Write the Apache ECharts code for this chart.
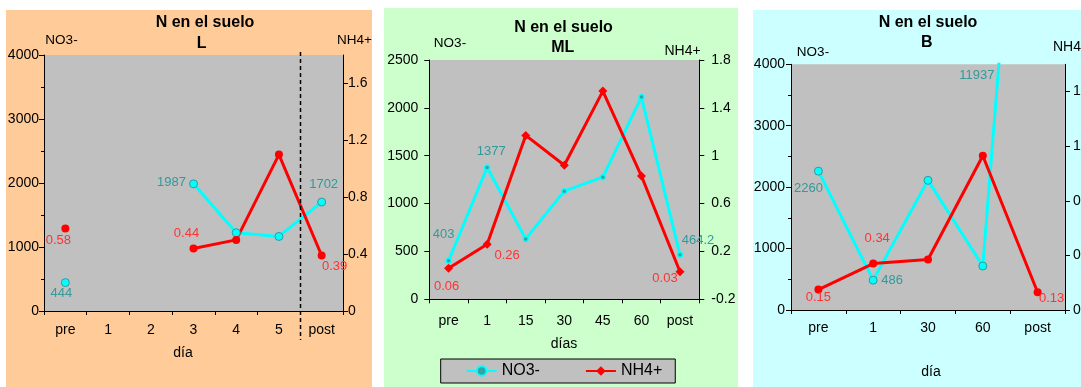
<!DOCTYPE html>
<html><head><meta charset="utf-8">
<script src="https://cdn.jsdelivr.net/npm/echarts@6/dist/echarts.min.js"></script>
<style>
html,body{margin:0;padding:0;background:#fff;width:1081px;height:387px;overflow:hidden;}
.p{position:absolute;}
</style></head><body>
<div id="c1" class="p" style="left:6px;top:10px;width:366px;height:377px;background:#FFCC99"></div>
<div id="c2" class="p" style="left:384px;top:8px;width:354px;height:379px;background:#CCFFCC"></div>
<div id="c3" class="p" style="left:753px;top:10px;width:328px;height:377px;background:#CCFFFF"></div>
<script>
// ---------- data ----------
const L_days = ['pre', '1', '2', '3', '4', '5', 'post'];
const L_no3 = [444, null, null, 1987, 1223, 1165, 1702];
const L_nh4 = [0.58, null, null, 0.44, 0.50, 1.10, 0.39];
const L_no3Axis = [0, 4000, 1000];
const L_nh4Axis = [0, 1.8, 0.4];
const L_nh4Ticks = [0, 0.4, 0.8, 1.2, 1.6];

const ML_days = ['pre', '1', '15', '30', '45', '60', 'post'];
const ML_no3 = [403, 1377, 631, 1130, 1276, 2113, 464.2];
const ML_nh4 = [0.06, 0.26, 1.17, 0.92, 1.54, 0.83, 0.03];
const ML_no3Axis = [0, 2500, 500];
const ML_nh4Axis = [-0.2, 1.8, 0.4];

const B_days = ['pre', '1', '30', '60', 'post'];
const B_no3 = [2260, 486, 2111, 716, 11937];
const B_nh4 = [0.15, 0.34, 0.37, 1.13, 0.13];
const B_no3Axis = [0, 4000, 1000];
const B_nh4Axis = [0, 1.8, 0.4];
const B_nh4Ticks = [0, 0.4, 0.8, 1.2, 1.6];

const TITLE = 'N en el suelo';
const S_NO3 = 'NO3-', S_NH4 = 'NH4+';

// ---------- styles ----------
const FONT = "'Liberation Sans', Arial, sans-serif";
const TEAL = '#339999', RED_TXT = '#FF3333', CYAN = '#00FFFF', RED = '#FF0000';

function withLabels(values, spots, color) {
  return values.map((v, i) => {
    const s = spots[i];
    if (!s || v == null) return v;
    return { value: v, label: { show: true, position: 'inside', offset: s, color: color,
      fontSize: 13, fontFamily: FONT, formatter: String(v) } };
  });
}
function yAx(range, pos, margin, extra) {
  const a = {
    type: 'value', position: pos, min: range[0], max: range[1], interval: range[2],
    axisLine: { show: true, onZero: false, lineStyle: { color: '#000', width: 1 } },
    axisTick: { show: true, length: 5, lineStyle: { color: '#000' } },
    splitLine: { show: false },
    axisLabel: { color: '#000', fontSize: 14, fontFamily: FONT, margin: margin,
      formatter: v => String(+(+v).toFixed(2)) }
  };
  if (extra) {
    if (extra.minor) a.minorTick = { show: true, splitNumber: 2, length: 3, lineStyle: { color: '#000' } };
    if (extra.ticks) {
      a.axisLabel.customValues = extra.ticks;
      a.axisTick.customValues = extra.ticks;
      const mx = extra.ticks[extra.ticks.length - 1];
      a.axisLabel.formatter = v => (v > mx + 1e-9 ? '' : String(+(+v).toFixed(2)));
    }
  }
  return a;
}
function xAx(days, margin) {
  return {
    type: 'category', data: days, boundaryGap: true,
    axisLine: { show: true, lineStyle: { color: '#000', width: 1 } },
    axisTick: { show: true, length: 4, lineStyle: { color: '#000' } },
    axisLabel: { color: '#000', fontSize: 14, fontFamily: FONT, margin: margin }
  };
}
function grid(left, top, width, height) {
  return { left: left, top: top, width: width, height: height, show: true, backgroundColor: '#C0C0C0',
    borderWidth: 0, containLabel: false, outerBoundsMode: 'none' };
}
function txt(x, y, text, size, bold, align) {
  return { type: 'text', x: x, y: y, z: 10, style: { text: text, fill: '#000', fontSize: size,
    fontWeight: bold ? 'bold' : 'normal', fontFamily: FONT, align: align || 'center', verticalAlign: 'middle' } };
}
function no3Series(data, size, small) {
  return { name: S_NO3, type: 'line', yAxisIndex: 0, data: data, symbol: 'circle', symbolSize: size,
    connectNulls: false, animation: false,
    lineStyle: { color: CYAN, width: 3 },
    itemStyle: small ? { color: '#2FA5A5', borderColor: CYAN, borderWidth: 1.5 }
                     : { color: CYAN, borderColor: TEAL, borderWidth: 1 } };
}
function nh4Series(data, size, sym) {
  return { name: S_NH4, type: 'line', yAxisIndex: 1, data: data, symbol: sym, symbolSize: size,
    connectNulls: false, animation: false,
    lineStyle: { color: RED, width: 3 }, itemStyle: { color: RED } };
}

// ---------- panel L ----------
const c1 = echarts.init(document.getElementById('c1'), null, { renderer: 'canvas' });
const opt1 = {
  backgroundColor: 'transparent', animation: false,
  grid: grid(38, 45, 299, 256),
  xAxis: xAx(L_days, 12),
  yAxis: [yAx(L_no3Axis, 'left', 5, { minor: true }), yAx(L_nh4Axis, 'right', 5, { ticks: L_nh4Ticks })],
  series: [
    no3Series(withLabels(L_no3, { 0: [-4, 11], 3: [-22, -1], 6: [2, -18] }, TEAL), 8),
    nh4Series(withLabels(L_nh4, { 0: [-7, 12], 3: [-7, -15], 6: [13, 11] }, RED_TXT), 8, 'circle')
  ],
  graphic: [
    txt(199, 13, TITLE, 16, true), txt(195.7, 34, 'L', 16, true),
    txt(55.5, 30, S_NO3, 13.5), txt(348.5, 30, S_NH4, 13.5),
    txt(177, 343, 'día', 14)
  ]
};
c1.setOption(opt1);
const xa = c1.convertToPixel({ xAxisIndex: 0 }, L_days[5]);
const xb = c1.convertToPixel({ xAxisIndex: 0 }, L_days[6]);
const xm = Math.round((xa + xb) / 2) + 0.5;
opt1.graphic.push({ type: 'line', z: 5, shape: { x1: xm, y1: 42, x2: xm, y2: 330 },
  style: { stroke: '#000', lineWidth: 1.5, lineDash: [4, 3] } });
c1.setOption(opt1, true);

// ---------- panel ML ----------
const c2 = echarts.init(document.getElementById('c2'), null, { renderer: 'canvas' });
c2.setOption({
  backgroundColor: 'transparent', animation: false,
  grid: grid(45.3, 52, 270, 239.3),
  xAxis: xAx(ML_days, 15),
  yAxis: [yAx(ML_no3Axis, 'left', 11), yAx(ML_nh4Axis, 'right', 12)],
  legend: {
    data: [S_NO3, S_NH4], left: 56.7, top: 351, orient: 'horizontal',
    padding: [4, 13, 4, 25], itemGap: 45, itemWidth: 30, itemHeight: 12,
    backgroundColor: '#C0C0C0', borderColor: '#000', borderWidth: 1, borderRadius: 0,
    textStyle: { color: '#000', fontSize: 16, fontFamily: FONT }
  },
  series: [
    no3Series(withLabels(ML_no3, { 0: [-5, -26], 1: [4, -16], 6: [18, -14] }, TEAL), 5, true),
    nh4Series(withLabels(ML_nh4, { 0: [-2, 18], 1: [20, 11], 6: [-15, 7] }, RED_TXT), 9, 'diamond')
  ],
  graphic: [
    txt(179.5, 20, TITLE, 16, true), txt(178.7, 40, 'ML', 16, true),
    txt(66, 35, S_NO3, 13.5), txt(298.5, 43, S_NH4, 14),
    txt(180, 336, 'días', 14)
  ]
});

// ---------- panel B ----------
const c3 = echarts.init(document.getElementById('c3'), null, { renderer: 'canvas' });
const b3 = no3Series(withLabels(B_no3, { 0: [-10, 17], 1: [19, 0] }, TEAL), 8);
b3.markPoint = {
  symbol: 'circle', symbolSize: 0, animation: false,
  label: { show: true, position: 'inside', color: TEAL, fontSize: 13, fontFamily: FONT, offset: [-6, 11],
    formatter: () => String(B_no3[4]) },
  data: [{ coord: [B_days[3], B_no3Axis[1]] }]
};
c3.setOption({
  backgroundColor: 'transparent', animation: false,
  grid: grid(38, 54.3, 274, 245.7),
  xAxis: xAx(B_days, 11),
  yAxis: [yAx(B_no3Axis, 'left', 6, { minor: true }), yAx(B_nh4Axis, 'right', 8, { ticks: B_nh4Ticks })],
  series: [
    b3,
    nh4Series(withLabels(B_nh4, { 0: [0, 8], 1: [4, -25], 4: [14, 6] }, RED_TXT), 8, 'circle')
  ],
  graphic: [
    txt(175, 13, TITLE, 16, true), txt(173.7, 33, 'B', 16, true),
    txt(60, 42, S_NO3, 13.5), txt(300, 37, S_NH4, 14, false, 'left'),
    txt(178, 362, 'día', 14)
  ]
});
</script>
</body></html>
